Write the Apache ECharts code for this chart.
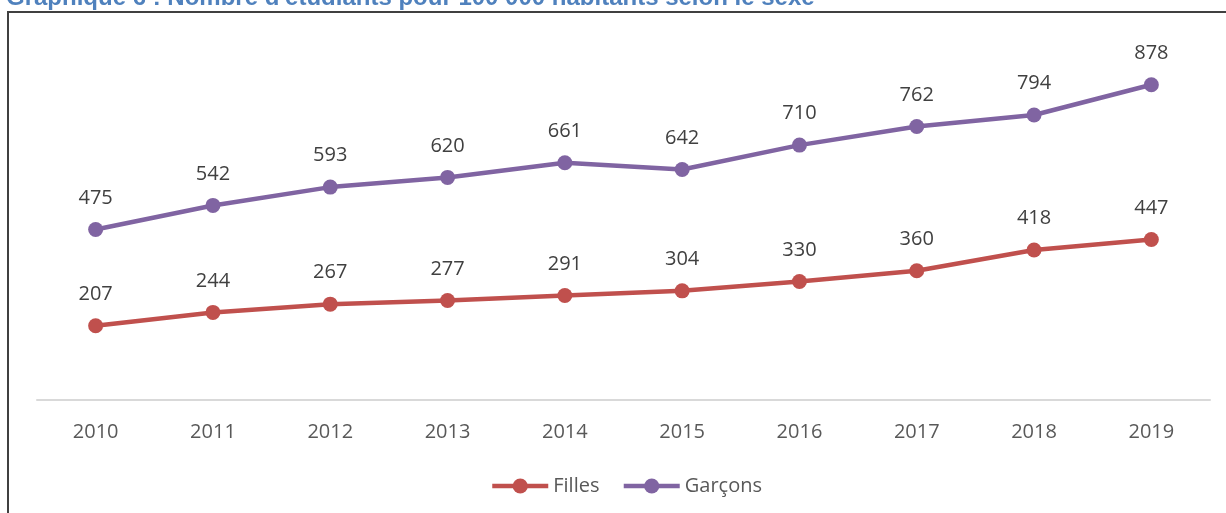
<!DOCTYPE html>
<html>
<head>
<meta charset="utf-8">
<style>
  html, body { margin: 0; padding: 0; background: #fff; }
  #chart { width: 1226px; height: 513px; }
</style>
<script src="https://cdn.jsdelivr.net/npm/echarts@6/dist/echarts.min.js"></script>
</head>
<body>
<div id="chart"></div>
<script>
// données
const years = ['2010', '2011', '2012', '2013', '2014', '2015', '2016', '2017', '2018', '2019']
const filles = [207, 244, 267, 277, 291, 304, 330, 360, 418, 447]
const garcons = [475, 542, 593, 620, 661, 642, 710, 762, 794, 878]
const titleText = "Graphique 6 : Nombre d'étudiants pour 100 000 habitants selon le sexe"

const font = '"Open Sans", "Noto Sans", sans-serif'
const myChart = echarts.init(document.getElementById('chart'))

function lineSerie (name, color, data) {
  return {
    name: name,
    type: 'line',
    data: data,
    symbol: 'circle',
    symbolSize: 15,
    lineStyle: { color: color, width: 4.5 },
    itemStyle: { color: color },
    label: {
      show: true,
      position: 'top',
      distance: 14,
      color: '#404040',
      fontSize: 20,
      fontFamily: font
    }
  }
}

const option = {
  backgroundColor: '#fff',
  animation: false,
  graphic: [
    {
      type: 'rect',
      shape: { x: 8, y: 12, width: 1400, height: 700 },
      style: { fill: 'none', stroke: '#404040', lineWidth: 2 },
      silent: true
    },
    {
      type: 'text',
      x: 6,
      y: 10,
      z: -1,
      style: {
        text: titleText,
        fill: '#4F81BD',
        font: 'bold 24px "Liberation Sans", Arial, sans-serif',
        verticalAlign: 'bottom'
      },
      silent: true
    }
  ],
  grid: {
    left: 37,
    right: 16,
    top: 41,
    bottom: 113,
    containLabel: false
  },
  legend: {
    bottom: 12,
    left: 485,
    itemWidth: 56,
    itemHeight: 19,
    itemGap: 22,
    lineStyle: { width: 4.5 },
    textStyle: { color: '#595959', fontSize: 20, fontFamily: font },
    data: ['Filles', 'Garçons']
  },
  xAxis: {
    type: 'category',
    data: years,
    boundaryGap: true,
    axisLine: { show: true, lineStyle: { color: '#d9d9d9', width: 2 } },
    axisTick: { show: false },
    axisLabel: { color: '#595959', fontSize: 20, fontFamily: font, margin: 22 }
  },
  yAxis: {
    type: 'value',
    min: 0,
    max: 1000,
    show: false,
    splitLine: { show: false }
  },
  series: [
    lineSerie('Filles', '#C0504D', filles),
    lineSerie('Garçons', '#8064A2', garcons)
  ]
}

myChart.setOption(option, true)
</script>
</body>
</html>
